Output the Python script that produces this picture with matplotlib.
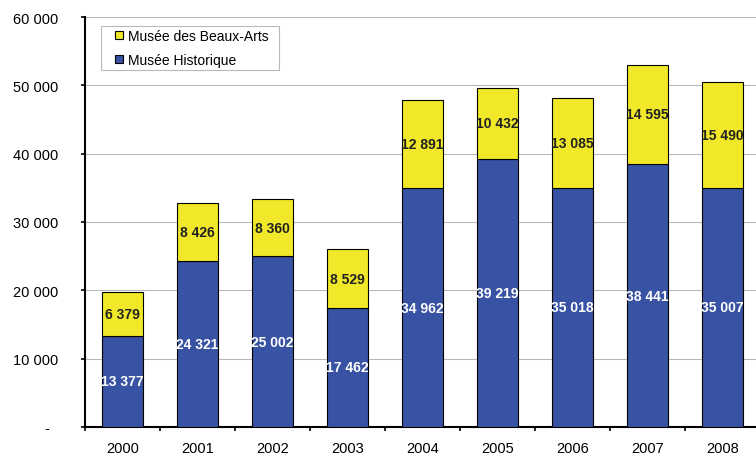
import matplotlib.pyplot as plt
from matplotlib.lines import Line2D
import numpy as np

plt.rcParams['font.family'] = ['Liberation Sans', 'DejaVu Sans']

years = ['2000', '2001', '2002', '2003', '2004', '2005', '2006', '2007', '2008']
historique = [13377, 24321, 25002, 17462, 34962, 39219, 35018, 38441, 35007]
beaux_arts = [6379, 8426, 8360, 8529, 12891, 10432, 13085, 14595, 15490]
y_ticks = [0, 10000, 20000, 30000, 40000, 50000, 60000]


def fmt(v):
    return f'{v:,}'.replace(',', ' ')


fig = plt.figure(figsize=(7.56, 4.56), dpi=100)
ax = fig.add_axes([85 / 756, 28 / 456, 675 / 756, 410 / 456])

x = np.arange(len(years))
blue = '#3953A4'
yellow = '#F0E828'
ax.bar(x, historique, width=0.55, color=blue, edgecolor='black', linewidth=0.8, zorder=3)
ax.bar(x, beaux_arts, width=0.55, bottom=historique, color=yellow, edgecolor='black',
       linewidth=0.8, zorder=3)

for i in range(len(years)):
    ax.text(x[i], historique[i] / 2, fmt(historique[i]), ha='center', va='center',
            color='white', fontsize=10, fontweight='bold', zorder=4)
    ax.text(x[i], historique[i] + beaux_arts[i] / 2, fmt(beaux_arts[i]), ha='center',
            va='center', color='#222222', fontsize=10, fontweight='bold', zorder=4)

ax.set_xlim(-0.5, len(years) - 0.5)
ax.set_ylim(0, 60000)
ax.set_yticks(y_ticks)
ax.set_yticklabels(['-  '] + [fmt(v) for v in y_ticks[1:]], fontsize=10.5)
ax.set_xticks(x)
ax.set_xticklabels(years, fontsize=10.5)
ax.set_xticks(np.arange(len(years) + 1) - 0.5, minor=True)
ax.tick_params(axis='x', which='major', length=0, pad=10)
ax.tick_params(axis='x', which='minor', length=3, width=1.2, direction='out')
ax.tick_params(axis='y', length=3, width=1.2, direction='out', pad=16)

ax.grid(axis='y', color='#b8b8b8', linewidth=0.8, zorder=0)
for s in ['top', 'right']:
    ax.spines[s].set_visible(False)
ax.spines['left'].set_linewidth(1.5)
ax.spines['bottom'].set_linewidth(1.5)

handles = [
    Line2D([], [], linestyle='none', marker='s', markersize=6, markerfacecolor=yellow,
           markeredgecolor='black', markeredgewidth=0.8),
    Line2D([], [], linestyle='none', marker='s', markersize=6, markerfacecolor=blue,
           markeredgecolor='black', markeredgewidth=0.8),
]
labels = ['Musée des Beaux-Arts  ', 'Musée Historique']
leg = ax.legend(handles, labels, loc='upper left', bbox_to_anchor=(0.0237, 0.978),
                fontsize=10, frameon=True, fancybox=False, edgecolor='#a8a8a8',
                handlelength=2.2, handletextpad=-0.5, labelspacing=0.73,
                borderpad=0.22, borderaxespad=0)
leg.get_frame().set_linewidth(0.8)

fig.savefig('out.png', dpi=100)
